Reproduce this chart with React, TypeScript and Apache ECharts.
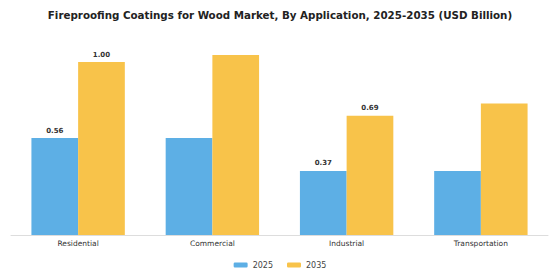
import React, { useEffect, useRef } from "react";
import * as echarts from "echarts";

const categories = ["Residential", "Commercial", "Industrial", "Transportation"];
const values2025 = [0.56, 0.56, 0.37, 0.37];
const values2035 = [1.0, 1.04, 0.69, 0.76];
const labeled2025 = [true, false, true, false];
const labeled2035 = [true, false, true, false];

const FONT = "DejaVu Sans";

function mk(values: number[], labeled: boolean[]) {
  return values.map((v, i) => ({
    value: v,
    label: {
      show: labeled[i],
      position: "top",
      distance: 4,
      formatter: (p: any) => Number(p.value).toFixed(2),
      fontFamily: FONT,
      fontSize: 7,
      fontWeight: "bold",
      color: "#333",
    },
  }));
}

export default function App() {
  const ref = useRef<HTMLDivElement>(null);
  useEffect(() => {
    const chart = echarts.init(ref.current!, null, { renderer: "svg" });
    chart.setOption({
      animation: false,
      backgroundColor: "#fff",
      title: {
        text: "Fireproofing Coatings for Wood Market, By Application, 2025-2035 (USD Billion)",
        left: "center",
        top: 5,
        textStyle: { fontFamily: FONT, fontSize: 10.3, fontWeight: "bold", color: "#222" },
      },
      legend: {
        bottom: 6,
        left: "center",
        itemWidth: 14,
        itemHeight: 5,
        itemGap: 14,
        textStyle: { fontFamily: FONT, fontSize: 8, color: "#444" },
        data: ["2025", "2035"],
      },
      grid: { left: 11, right: 12, top: 27.4, bottom: 45, containLabel: false },
      xAxis: {
        type: "category",
        data: categories,
        axisLine: { lineStyle: { color: "#ddd", width: 1 } },
        axisTick: { show: false },
        axisLabel: { fontFamily: FONT, fontSize: 7.5, color: "#333", margin: 4 },
      },
      yAxis: { type: "value", min: 0, max: 1.2, show: false, splitLine: { show: false } },
      series: [
        {
          name: "2025",
          type: "bar",
          data: mk(values2025, labeled2025),
          barWidth: 46.7,
          barGap: "0%",
          itemStyle: { color: "#5DAFE5" },
        },
        {
          name: "2035",
          type: "bar",
          data: mk(values2035, labeled2035),
          barWidth: 46.7,
          barGap: "0%",
          itemStyle: { color: "#F8C34A" },
        },
      ],
    });
    return () => chart.dispose();
  }, []);
  return <div ref={ref} style={{ width: 560, height: 280, position: "absolute", left: 0, top: 0 }} />;
}
